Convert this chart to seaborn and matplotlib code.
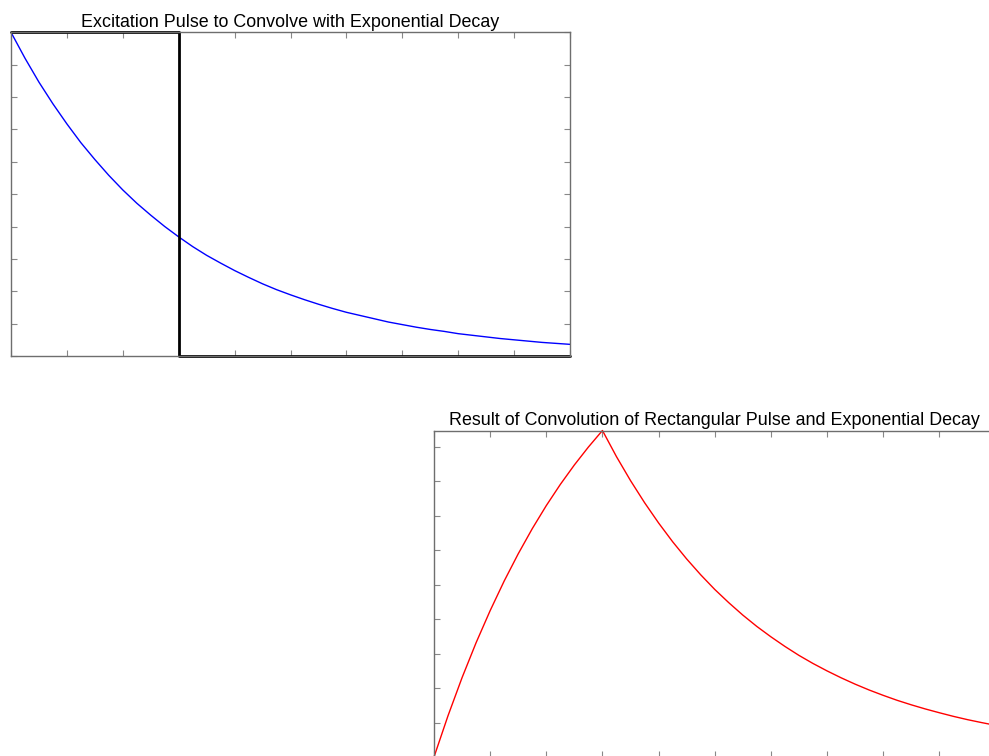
import numpy as np
import pandas as pd
import matplotlib
matplotlib.use("Agg")
import matplotlib.pyplot as plt
import seaborn as sns

# Sample times (normalised time axis, 0..1)
t = [i * 0.025 for i in range(41)]

# Exponential decay (normalised to 1 at t=0)
decay = [1.000, 0.920, 0.846, 0.779, 0.717, 0.659, 0.607, 0.558, 0.513, 0.472,
         0.435, 0.400, 0.368, 0.338, 0.311, 0.287, 0.264, 0.243, 0.223, 0.205,
         0.189, 0.174, 0.160, 0.147, 0.135, 0.125, 0.115, 0.105, 0.097, 0.089,
         0.082, 0.076, 0.069, 0.064, 0.059, 0.054, 0.050, 0.046, 0.042, 0.039,
         0.036]

# Rectangular excitation pulse (corner points)
pulse_t = [0.0, 0.3, 0.3, 1.0]
pulse_v = [1.0, 1.0, 0.0, 0.0]

# Convolution of pulse and decay
conv = [0.0000, 0.0240, 0.0461, 0.0664, 0.0850, 0.1022, 0.1180, 0.1326, 0.1460,
        0.1583, 0.1696, 0.1800, 0.1896, 0.1744, 0.1605, 0.1477, 0.1359, 0.1250,
        0.1150, 0.1058, 0.0973, 0.0896, 0.0824, 0.0758, 0.0698, 0.0642, 0.0590,
        0.0543, 0.0500, 0.0460, 0.0423, 0.0389, 0.0358, 0.0329, 0.0303, 0.0279,
        0.0257, 0.0236, 0.0217, 0.0200, 0.0184]

decay_df = pd.DataFrame({"t": t, "v": decay})
pulse_df = pd.DataFrame({"t": pulse_t, "v": pulse_v})
conv_df = pd.DataFrame({"t": t, "v": conv})

sns.set_style("white")
plt.rcParams["font.family"] = ["Liberation Sans", "DejaVu Sans"]
plt.rcParams["text.color"] = "black"

W, H = 989, 756
fig = plt.figure(figsize=(W / 100, H / 100), dpi=100)

ax1 = fig.add_axes([11 / W, 1 - 356 / H, 559 / W, 323.7 / H])
ax2 = fig.add_axes([434 / W, -1 / H, 561.5 / W, 326.5 / H])

EDGE = "#6e6e6e"


def style_axes(ax, ymax, ystep):
    ax.set_xlim(0, 1)
    ax.set_ylim(0, ymax)
    ax.set_xticks(np.arange(0, 1.0001, 0.1))
    ax.set_yticks(np.arange(0, ymax + 1e-9, ystep))
    ax.set_xticklabels([])
    ax.set_yticklabels([])
    ax.set_xlabel("")
    ax.set_ylabel("")
    ax.tick_params(direction="in", length=4, width=0.8, color="#888888",
                   top=True, right=True, bottom=True, left=True)
    for s in ax.spines.values():
        s.set_color(EDGE)
        s.set_linewidth(1.0)
        s.set_visible(True)


sns.lineplot(data=decay_df, x="t", y="v", color="#0000ff", lw=1.0, ax=ax1,
             estimator=None)
sns.lineplot(data=pulse_df, x="t", y="v", color="black", lw=2.0, ax=ax1,
             sort=False, estimator=None, clip_on=False)
style_axes(ax1, 1.0, 0.1)
ax1.set_title("Excitation Pulse to Convolve with Exponential Decay",
              fontsize=12.9, pad=3.8, color="black")

sns.lineplot(data=conv_df, x="t", y="v", color="#ff0000", lw=1.0, ax=ax2,
             estimator=None, clip_on=False)
style_axes(ax2, max(conv), 0.02)
ax2.set_title("Result of Convolution of Rectangular Pulse and Exponential Decay",
              fontsize=12.9, pad=3.8, color="black")

fig.savefig("out.png", dpi=100, facecolor="white")
